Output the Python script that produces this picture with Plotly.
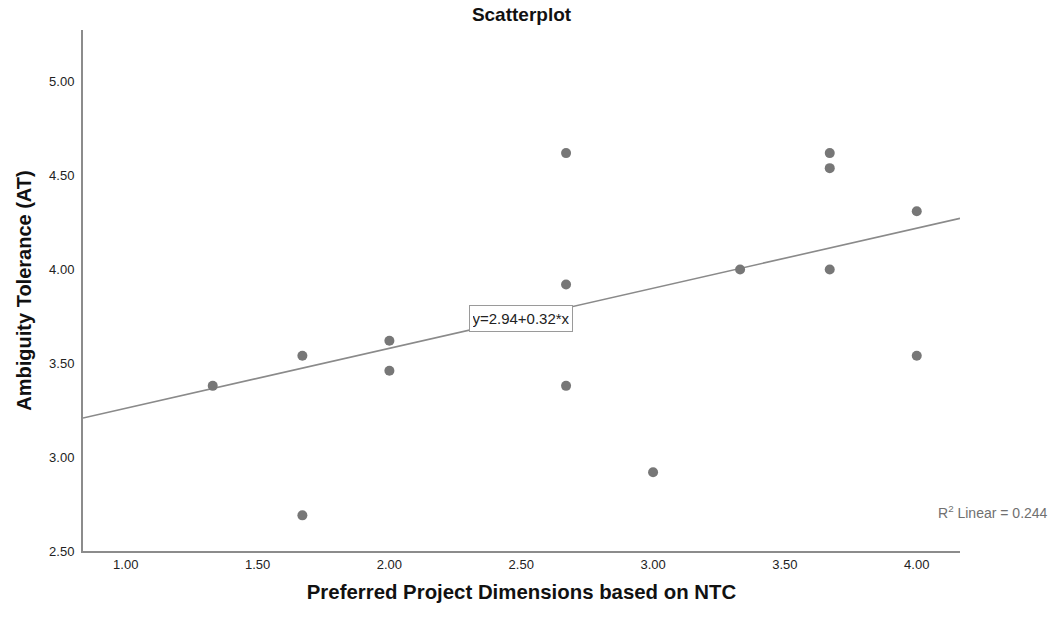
import plotly.graph_objects as go

# Data
x_vals = [1.33, 1.67, 1.67, 2.00, 2.00, 2.67, 2.67, 2.67, 3.00, 3.33, 3.67, 3.67, 3.67, 4.00, 4.00]
y_vals = [3.38, 3.54, 2.69, 3.62, 3.46, 4.62, 3.92, 3.38, 2.92, 4.00, 4.62, 4.54, 4.00, 4.31, 3.54]
fit_intercept = 2.94
fit_slope = 0.32
r2_linear = 0.244
x_ticks = [1.0, 1.5, 2.0, 2.5, 3.0, 3.5, 4.0]
y_ticks = [2.5, 3.0, 3.5, 4.0, 4.5, 5.0]

x_range = [0.838, 4.164]
y_range = [2.5, 5.276]

font_family = "Liberation Sans, Arial, sans-serif"
gray = "#777777"

W, H = 1054, 617

fig = go.Figure()

line_x = list(x_range)
line_y = [fit_intercept + fit_slope * v for v in line_x]
fig.add_trace(go.Scatter(x=line_x, y=line_y, mode="lines",
                         line=dict(color="#8a8a8a", width=1.6),
                         hoverinfo="skip", showlegend=False))

fig.add_trace(go.Scatter(x=x_vals, y=y_vals, mode="markers",
                         marker=dict(color=gray, size=10, line=dict(width=0)),
                         showlegend=False))

eq_x = 2.5
fig.add_annotation(x=eq_x, y=fit_intercept + fit_slope * eq_x, xref="x", yref="y",
                   text=f"y={fit_intercept:.2f}+{fit_slope:.2f}*x", showarrow=False,
                   font=dict(family=font_family, size=15, color="#222222"),
                   width=96, height=19,
                   bgcolor="white", bordercolor="#9a9a9a", borderwidth=1, borderpad=3)

fig.add_annotation(x=1.1026, y=0.075, xref="paper", yref="paper",
                   xanchor="right", yanchor="middle",
                   text=f"R<sup>2</sup> Linear = {r2_linear:.3f}", showarrow=False,
                   font=dict(family=font_family, size=14, color="#707070"))

fig.update_layout(
    width=W, height=H,
    margin=dict(l=83, r=94, t=30, b=66),
    paper_bgcolor="white", plot_bgcolor="white",
    title=dict(text="<b>Scatterplot</b>", x=0.5, xref="paper", y=1 - 14 / H, yref="container",
               yanchor="middle", xanchor="center",
               font=dict(family=font_family, size=19, color="#111111")),
    xaxis=dict(range=x_range, tickvals=x_ticks, ticktext=[f"{v:.2f}" for v in x_ticks],
               showgrid=False, zeroline=False, showline=True, linecolor="#8c8c8c", linewidth=2,
               ticks="", tickfont=dict(family=font_family, size=13, color="#222222"),
               title=dict(text="<b>Preferred Project Dimensions based on NTC</b>", standoff=14,
                          font=dict(family=font_family, size=20.4, color="#111111"))),
    yaxis=dict(range=y_range, tickvals=y_ticks, ticktext=[f"{v:.2f}" for v in y_ticks],
               showgrid=False, zeroline=False, showline=True, linecolor="#8c8c8c", linewidth=2,
               ticks="", ticklabelstandoff=4, tickfont=dict(family=font_family, size=13, color="#222222"),
               title=dict(text="<b>Ambiguity Tolerance (AT)</b>", standoff=12,
                          font=dict(family=font_family, size=20, color="#111111"))),
)

# remove the default 8px page margin so the figure starts at the window's corner
fig.write_html("out.html", config={"displayModeBar": False},
               post_script="document.body.style.margin='0';")
